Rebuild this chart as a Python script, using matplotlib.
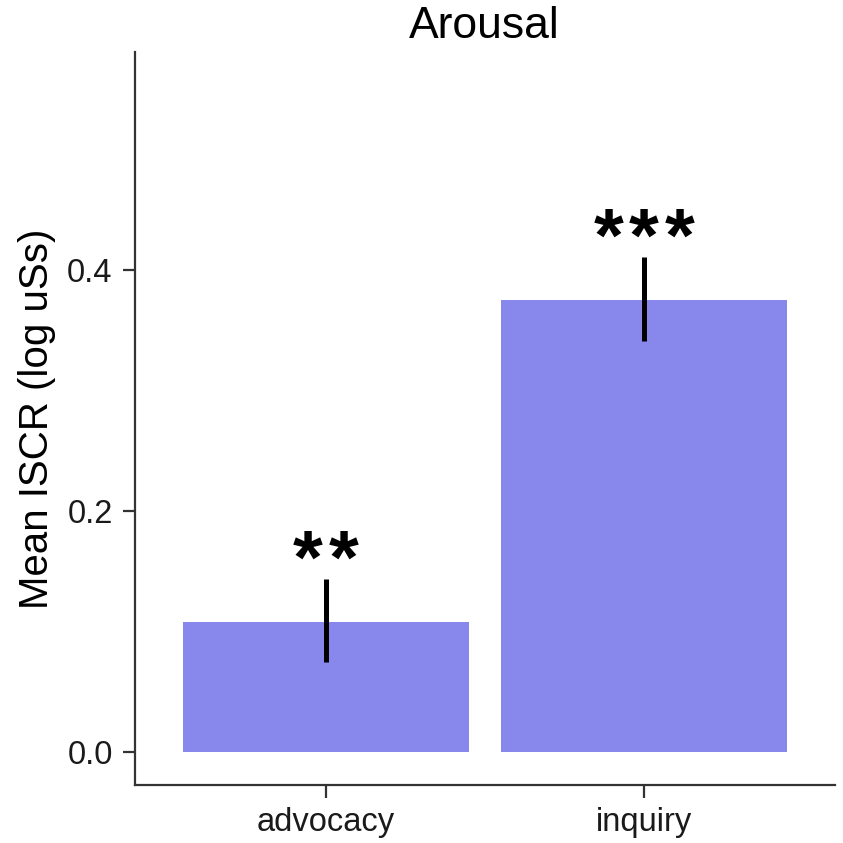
import numpy as np
import matplotlib
matplotlib.use("Agg")
import matplotlib.pyplot as plt

plt.rcParams['font.family'] = ['Liberation Sans', 'DejaVu Sans']

# data
groups = ['advocacy', 'inquiry']
means = [0.108, 0.375]
err_low = [0.075, 0.341]
err_high = [0.144, 0.411]
stars = ['**', '***']

fig = plt.figure(figsize=(8.43, 8.43), dpi=100)
ax = fig.add_axes([0.160, 0.069, 0.830, 0.8695])

x = np.arange(1, len(groups) + 1)
ax.bar(x, means, width=0.9, color='#8888ec', edgecolor='none')
ax.vlines(x, err_low, err_high, color='black', linewidth=3.6)

# significance stars, one glyph at a time so the spacing matches
step = 25.5  # points between stars
for xi, top, s in zip(x, err_high, stars):
    n = len(s)
    for k in range(n):
        dx = (k - (n - 1) / 2) * step
        ax.annotate('*', xy=(xi, top), xytext=(dx, -3), textcoords='offset points',
                    ha='center', va='baseline', fontsize=55,
                    fontweight='bold', color='black')

ax.set_xlim(0.4, 2.6)
ax.set_ylim(-0.027, 0.581)
ax.set_xticks(x)
ax.set_xticklabels(groups)
ax.set_yticks([0.0, 0.2, 0.4])
ax.set_yticklabels(['0.0', '0.2', '0.4'])

ax.set_title('Arousal', fontsize=32, pad=10)
ax.set_ylabel('Mean ISCR (log uSs)', fontsize=29, labelpad=8)

for side in ['top', 'right']:
    ax.spines[side].set_visible(False)
for side in ['left', 'bottom']:
    ax.spines[side].set_linewidth(1.6)
    ax.spines[side].set_color('#333333')
ax.tick_params(axis='both', length=9, width=1.6, color='#333333',
               labelsize=23.5, labelcolor='#1a1a1a', pad=7)

fig.savefig('out.png', dpi=100)
